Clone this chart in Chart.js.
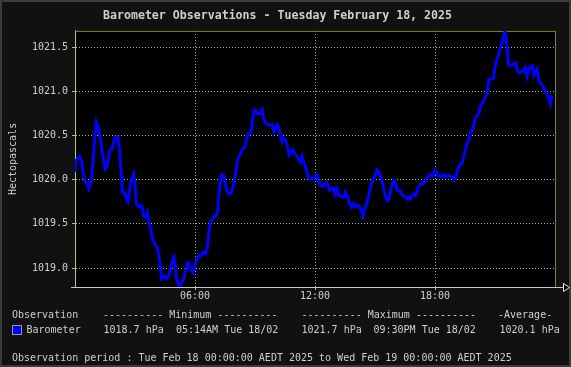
<!DOCTYPE html>
<html>
<head>
<meta charset="utf-8">
<script src="https://cdn.jsdelivr.net/npm/chart.js@4.4.1/dist/chart.umd.min.js"></script>
<style>
  html, body { margin: 0; padding: 0; background: #111111; }
  #wrap { position: relative; width: 571px; height: 367px; }
  canvas { display: block; }
</style>
</head>
<body>
<div id="wrap"><canvas id="c" width="571" height="367"></canvas></div>
<script>
// ---- Data ----
const timeMinutes = [
  0, 4, 14, 19, 24, 29, 39, 42, 47, 51, 56, 59, 64, 69, 74, 79, 82, 87, 91, 97,
  101, 106, 112, 117, 121, 129, 134, 137, 140, 142, 149, 154, 159, 162, 166, 172, 176, 179, 182, 184,
  191, 197, 202, 206, 212, 217, 220, 224, 229, 234, 239, 246, 251, 256, 260, 267, 274, 281, 287, 292,
  296, 300, 304, 310, 314, 320, 326, 332, 336, 342, 347, 354, 359, 364, 371, 379, 384, 392, 397, 401,
  406, 414, 419, 427, 431, 436, 441, 446, 451, 456, 461, 469, 474, 479, 482, 489, 494, 498, 503, 510,
  515, 520, 526, 531, 534, 538, 543, 546, 556, 561, 566, 574, 584, 592, 597, 602, 607, 612, 616, 621,
  626, 632, 637, 642, 647, 654, 659, 666, 672, 677, 681, 686, 692, 697, 702, 716, 722, 727, 731, 736,
  742, 747, 754, 759, 764, 771, 776, 780, 786, 791, 806, 811, 816, 822, 829, 836, 842, 849, 854, 859,
  864, 869, 874, 879, 884, 889, 894, 901, 906, 912, 917, 922, 927, 932, 937, 942, 947, 952, 957, 962,
  967, 972, 977, 984, 992, 997, 1002, 1006, 1011, 1016, 1021, 1026, 1031, 1037, 1044, 1049, 1054, 1061, 1066, 1072,
  1077, 1081, 1086, 1092, 1099, 1106, 1111, 1122, 1134, 1139, 1144, 1149, 1154, 1161, 1166, 1171, 1176, 1182, 1187, 1194,
  1199, 1204, 1211, 1216, 1221, 1227, 1232, 1237, 1241, 1249, 1256, 1259, 1264, 1269, 1274, 1279, 1285, 1290, 1294, 1297,
  1301, 1309, 1317, 1322, 1326, 1331, 1339, 1346, 1351, 1356, 1361, 1366, 1372, 1377, 1382, 1386, 1391, 1396, 1402, 1407,
  1412, 1417, 1422, 1426, 1430, 1433
];
const barometerHpa = [
  1020.09, 1020.22, 1020.26, 1020.22, 1020.09, 1019.99, 1019.94, 1019.90, 1019.96, 1020.07, 1020.30, 1020.45, 1020.65, 1020.60, 1020.52, 1020.39, 1020.30, 1020.18, 1020.12, 1020.16,
  1020.26, 1020.35, 1020.35, 1020.45, 1020.48, 1020.48, 1020.31, 1020.16, 1019.99, 1019.86, 1019.86, 1019.78, 1019.75, 1019.84, 1019.95, 1020.01, 1020.06, 1019.99, 1019.86, 1019.73,
  1019.69, 1019.71, 1019.69, 1019.59, 1019.58, 1019.63, 1019.56, 1019.48, 1019.40, 1019.31, 1019.27, 1019.23, 1019.16, 1019.01, 1018.88, 1018.91, 1018.88, 1018.91, 1019.01, 1019.08,
  1019.12, 1019.05, 1018.89, 1018.82, 1018.79, 1018.84, 1018.88, 1018.97, 1019.05, 1019.06, 1018.99, 1018.95, 1019.01, 1019.08, 1019.14, 1019.14, 1019.18, 1019.16, 1019.23, 1019.39,
  1019.52, 1019.56, 1019.59, 1019.61, 1019.80, 1019.99, 1020.06, 1020.05, 1019.95, 1019.88, 1019.84, 1019.85, 1019.92, 1019.99, 1020.09, 1020.24, 1020.28, 1020.31, 1020.35, 1020.37,
  1020.47, 1020.52, 1020.52, 1020.60, 1020.71, 1020.79, 1020.79, 1020.75, 1020.75, 1020.79, 1020.69, 1020.63, 1020.62, 1020.62, 1020.54, 1020.58, 1020.62, 1020.58, 1020.50, 1020.43,
  1020.47, 1020.45, 1020.39, 1020.28, 1020.31, 1020.34, 1020.30, 1020.26, 1020.22, 1020.20, 1020.26, 1020.20, 1020.14, 1020.07, 1020.01, 1020.01, 1020.05, 1020.05, 1019.97, 1019.94,
  1019.92, 1019.95, 1019.97, 1019.94, 1019.88, 1019.90, 1019.90, 1019.84, 1019.90, 1019.82, 1019.80, 1019.86, 1019.82, 1019.75, 1019.69, 1019.73, 1019.69, 1019.71, 1019.69, 1019.65,
  1019.59, 1019.67, 1019.71, 1019.78, 1019.88, 1019.95, 1020.00, 1020.05, 1020.11, 1020.09, 1020.03, 1019.97, 1019.88, 1019.80, 1019.76, 1019.78, 1019.88, 1019.95, 1019.99, 1019.95,
  1019.88, 1019.88, 1019.86, 1019.82, 1019.80, 1019.78, 1019.80, 1019.78, 1019.82, 1019.84, 1019.82, 1019.86, 1019.92, 1019.95, 1019.95, 1019.97, 1020.01, 1020.04, 1020.06, 1020.04,
  1020.07, 1020.11, 1020.07, 1020.04, 1020.04, 1020.06, 1020.03, 1020.05, 1020.03, 1020.00, 1020.05, 1020.12, 1020.17, 1020.18, 1020.26, 1020.33, 1020.41, 1020.45, 1020.54, 1020.58,
  1020.67, 1020.72, 1020.74, 1020.83, 1020.86, 1020.90, 1020.94, 1021.00, 1021.13, 1021.14, 1021.15, 1021.26, 1021.34, 1021.39, 1021.47, 1021.53, 1021.62, 1021.68, 1021.58, 1021.47,
  1021.30, 1021.30, 1021.31, 1021.32, 1021.24, 1021.21, 1021.22, 1021.24, 1021.27, 1021.17, 1021.24, 1021.28, 1021.29, 1021.18, 1021.22, 1021.25, 1021.13, 1021.10, 1021.07, 1021.04,
  1021.00, 1020.96, 1020.91, 1020.86, 1020.94, 1020.95
];
const yTickValues = [1019.0, 1019.5, 1020.0, 1020.5, 1021.0, 1021.5];
const xTickValues = [360, 720, 1080];
const xTickLabels = ['06:00', '12:00', '18:00'];

const titleText = 'Barometer Observations - Tuesday February 18, 2025';
const yAxisTitle = 'Hectopascals';
const seriesName = 'Barometer';
const summaryHeader = ['Observation', '---------- Minimum ----------', '---------- Maximum ----------', '-Average-'];
const summaryRow = ['1018.7 hPa', '05:14AM Tue 18/02', '1021.7 hPa', '09:30PM Tue 18/02', '1020.1 hPa'];
const periodText = 'Observation period : Tue Feb 18 00:00:00 AEDT 2025 to Wed Feb 19 00:00:00 AEDT 2025';

// ---- Styling ----
const MONO = "'DejaVu Sans Mono', 'Liberation Mono', monospace";
const TEXT = '#cfcfcf';
const GRID = 'rgba(160,205,150,0.95)';
const OLIVE = '#80803a';

Chart.defaults.font.family = MONO;
Chart.defaults.font.size = 10;
Chart.defaults.color = TEXT;

const decor = {
  id: 'decor',
  beforeDraw(chart) {
    const ctx = chart.ctx;
    ctx.save();
    ctx.fillStyle = '#3a3a3a';
    ctx.fillRect(0, 0, chart.width, chart.height);
    ctx.fillStyle = '#111111';
    ctx.fillRect(2, 2, chart.width - 4, chart.height - 4);
    const a = chart.chartArea;
    ctx.fillStyle = '#000000';
    ctx.fillRect(a.left, a.top, a.right - a.left, a.bottom - a.top);
    ctx.restore();
  },
  beforeDatasetsDraw(chart) {
    const ctx = chart.ctx;
    const a = chart.chartArea;
    ctx.save();
    ctx.strokeStyle = OLIVE;
    ctx.lineWidth = 1;
    ctx.beginPath();
    ctx.moveTo(a.left, a.top + 0.5);
    ctx.lineTo(a.right + 0.5, a.top + 0.5);
    ctx.lineTo(a.right + 0.5, a.bottom);
    ctx.stroke();
    // axis line extension with arrow
    ctx.strokeStyle = '#c8c8c8';
    ctx.beginPath();
    ctx.moveTo(a.left - 4, a.bottom + 0.5);
    ctx.lineTo(a.right + 8, a.bottom + 0.5);
    ctx.stroke();
    ctx.fillStyle = '#000';
    ctx.strokeStyle = '#e8e8e8';
    ctx.beginPath();
    ctx.moveTo(a.right + 8.5, a.bottom - 3.5);
    ctx.lineTo(a.right + 14.5, a.bottom + 0.5);
    ctx.lineTo(a.right + 8.5, a.bottom + 4.5);
    ctx.closePath();
    ctx.fill();
    ctx.stroke();
    ctx.restore();
  },
  afterDraw(chart) {
    const ctx = chart.ctx;
    ctx.save();
    ctx.font = '10px ' + MONO;
    ctx.fillStyle = TEXT;
    ctx.textBaseline = 'middle';
    ctx.textAlign = 'left';
    ctx.fillText(summaryHeader[0], 12, 315);
    ctx.fillText(summaryHeader[1], 103, 315);
    ctx.fillText(summaryHeader[2], 301.5, 315);
    ctx.fillText(summaryHeader[3], 498, 315);
    // series row
    ctx.fillStyle = '#0000ff';
    ctx.fillRect(13, 326, 8, 8);
    ctx.strokeStyle = '#9a9a9a';
    ctx.lineWidth = 1;
    ctx.strokeRect(12.5, 325.5, 9, 9);
    ctx.fillStyle = TEXT;
    ctx.fillText(seriesName, 26.5, 330);
    ctx.fillText(summaryRow[0], 103.5, 330);
    ctx.fillText(summaryRow[1], 176, 330);
    ctx.fillText(summaryRow[2], 301.5, 330);
    ctx.fillText(summaryRow[3], 373.5, 330);
    ctx.fillText(summaryRow[4], 499.5, 330);
    ctx.fillText(periodText, 12, 358);
    ctx.restore();
  }
};

new Chart(document.getElementById('c'), {
  type: 'line',
  data: {
    datasets: [{
      label: seriesName,
      data: timeMinutes.map((t, i) => ({ x: t, y: barometerHpa[i] })),
      borderColor: '#0000ff',
      borderWidth: 3,
      pointRadius: 0,
      tension: 0,
      fill: false
    }]
  },
  options: {
    responsive: false,
    animation: false,
    devicePixelRatio: 1,
    layout: { padding: { left: 0, top: 0, right: 16, bottom: 60 } },
    plugins: {
      legend: { display: false },
      tooltip: { enabled: false },
      title: {
        display: true,
        text: titleText,
        color: TEXT,
        font: { family: MONO, size: 11.6, weight: 'bold', lineHeight: 1.2 },
        padding: { top: 9, bottom: 8 }
      }
    },
    scales: {
      x: {
        type: 'linear',
        min: 0,
        max: 1440,
        afterBuildTicks: s => { s.ticks = xTickValues.map(v => ({ value: v })); },
        afterFit: s => { s.height = 20; },
        ticks: {
          callback: v => xTickLabels[xTickValues.indexOf(v)] ?? '',
          padding: 0,
          maxRotation: 0,
          color: TEXT,
          font: { size: 10 }
        },
        grid: { color: GRID, lineWidth: 1, drawTicks: true, tickLength: 3 },
        border: { display: true, color: '#c8c8c8', dash: [1, 2] }
      },
      y: {
        type: 'linear',
        min: 1018.785,
        max: 1021.685,
        afterBuildTicks: s => { s.ticks = yTickValues.map(v => ({ value: v })); },
        afterFit: s => { s.width = 75; },
        ticks: {
          callback: v => Number(v).toFixed(1),
          padding: 4,
          color: TEXT,
          font: { size: 10 }
        },
        grid: { color: GRID, lineWidth: 1, drawTicks: true, tickLength: 3 },
        border: { display: true, color: '#a8c890', dash: [1, 2] },
        title: {
          display: true,
          text: yAxisTitle,
          color: TEXT,
          font: { size: 10 },
          padding: { top: 7, bottom: 0 }
        }
      }
    }
  },
  plugins: [decor]
});
</script>
</body>
</html>
